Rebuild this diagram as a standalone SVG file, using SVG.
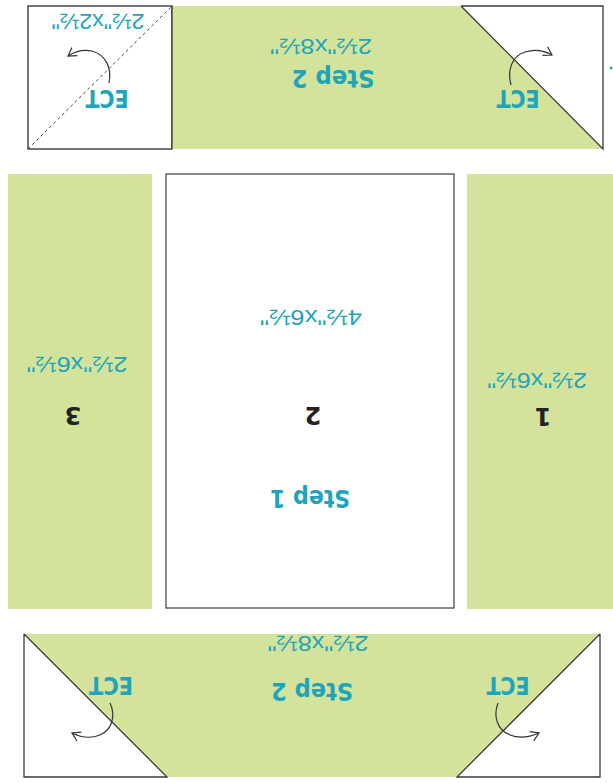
<svg xmlns="http://www.w3.org/2000/svg" width="613" height="783" viewBox="0 0 613 783">
<defs>
<style>
.green{fill:#d4e39b;stroke:none}
.edge{fill:none;stroke:#3a3a3a;stroke-width:1.3}
.box{fill:#ffffff;stroke:#5a5a5a;stroke-width:1.4}
.dim{font-family:"Liberation Sans",Arial,sans-serif;font-size:22.5px;fill:#1ea5ba;text-anchor:middle}
.step{font-family:"DejaVu Sans","Liberation Sans",sans-serif;font-weight:bold;font-size:24px;fill:#1ea5ba;text-anchor:middle}
.ect{font-family:"DejaVu Sans","Liberation Sans",sans-serif;font-weight:bold;font-size:24px;fill:#1ea5ba;text-anchor:middle}
.num{font-family:"DejaVu Sans","Liberation Sans",sans-serif;font-weight:bold;font-size:24px;fill:#222;text-anchor:middle}
.arrow{fill:none;stroke:#333;stroke-width:1.2;marker-end:url(#chev)}
</style>
<marker id="chev" viewBox="0 0 12 12" refX="10" refY="6" markerWidth="12" markerHeight="12" markerUnits="userSpaceOnUse" orient="auto">
<path d="M2,1 L10,6 L2,11" fill="none" stroke="#333" stroke-width="1.2"/>
</marker>
</defs>
<rect width="613" height="783" fill="#ffffff"/>

<g id="top-left-square">
<rect x="28" y="6" width="144" height="143" class="box" style="stroke:#3a3a3a"/>
<line x1="28" y1="149" x2="171" y2="7" stroke="#444" stroke-width="1" stroke-dasharray="3,3"/>
<text class="dim" x="98" y="14" textLength="93" lengthAdjust="spacingAndGlyphs" transform="rotate(180 98 14)">2½"x2½"</text>
<text class="ect" x="107" y="90" textLength="43" lengthAdjust="spacingAndGlyphs" transform="rotate(180 107 90)">ECT</text>
</g>

<g id="top-band">
<polygon class="green" points="172,6 461,6 603,149 172,149"/>
<line class="edge" x1="172" y1="6" x2="172" y2="149"/>
<polyline class="edge" points="461,6 603,6 603,149 461,6"/>
<text class="dim" x="321" y="39" textLength="102" lengthAdjust="spacingAndGlyphs" transform="rotate(180 321 39)">2½"x8½"</text>
<text class="step" x="333" y="70" textLength="83" lengthAdjust="spacingAndGlyphs" transform="rotate(180 333 70)">Step 2</text>
<text class="ect" x="518" y="90" textLength="43" lengthAdjust="spacingAndGlyphs" transform="rotate(180 518 90)">ECT</text>
<circle cx="611" cy="68" r="1.4" fill="#1ea5ba"/>
</g>

<g id="strip-3">
<rect class="green" x="8" y="174" width="144" height="435"/>
<text class="dim" x="77" y="357" textLength="101" lengthAdjust="spacingAndGlyphs" transform="rotate(180 77 357)">2½"x6½"</text>
<text class="num" x="73" y="407" transform="rotate(180 73 407)">3</text>
</g>

<g id="center-2">
<rect class="box" x="166" y="174" width="288" height="434"/>
<text class="dim" x="311" y="310" textLength="102" lengthAdjust="spacingAndGlyphs" transform="rotate(180 311 310)">4½"x6½"</text>
<text class="num" x="313" y="407" transform="rotate(180 313 407)">2</text>
<text class="step" x="310" y="490" textLength="80" lengthAdjust="spacingAndGlyphs" transform="rotate(180 310 490)">Step 1</text>
</g>

<g id="strip-1">
<rect class="green" x="467" y="174" width="146" height="435"/>
<text class="dim" x="537" y="373" textLength="100" lengthAdjust="spacingAndGlyphs" transform="rotate(180 537 373)">2½"x6½"</text>
<text class="num" x="543" y="408" transform="rotate(180 543 408)">1</text>
</g>

<g id="bottom-band">
<polygon class="green" points="24,634 600,634 457,777 167,777"/>
<polyline class="edge" points="24,634 24,777 167,777 24,634"/>
<polyline class="edge" points="600,634 600,777 457,777 600,634"/>
<text class="dim" x="318" y="636" textLength="101" lengthAdjust="spacingAndGlyphs" transform="rotate(180 318 636)">2½"x8½"</text>
<text class="step" x="312" y="683" textLength="82" lengthAdjust="spacingAndGlyphs" transform="rotate(180 312 683)">Step 2</text>
<text class="ect" x="111" y="677" textLength="44" lengthAdjust="spacingAndGlyphs" transform="rotate(180 111 677)">ECT</text>
<text class="ect" x="508" y="677" textLength="43" lengthAdjust="spacingAndGlyphs" transform="rotate(180 508 677)">ECT</text>
</g>

<g id="connectors">
<path class="arrow" d="M109,83 C112,68 106,55 92,51 C82,49 74,52 68,56"/>
<path class="arrow" d="M511,85 C507,70 512,56 525,52 C535,49 545,51 552,55"/>
<path class="arrow" d="M110,703 C116,716 112,730 100,735 C90,739 80,737 72,733"/>
<path class="arrow" d="M498,703 C493,716 497,730 510,735 C520,739 530,737 539,733"/>
</g>
</svg>
